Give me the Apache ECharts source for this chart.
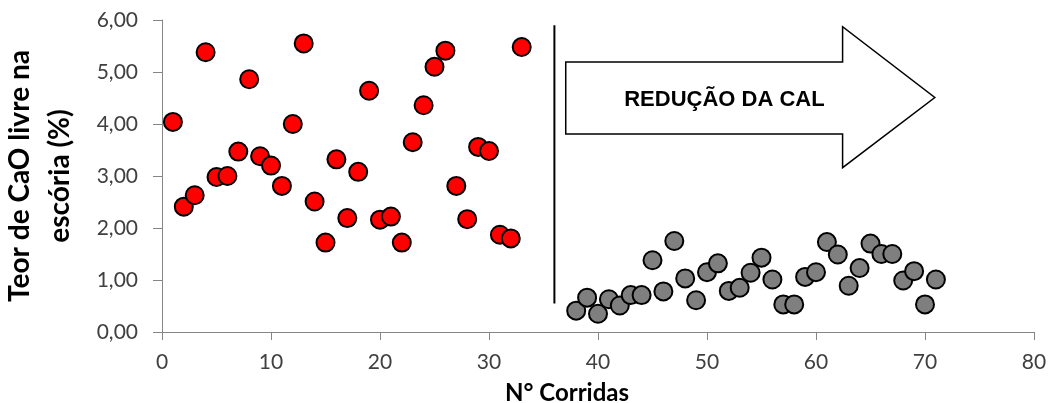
<!DOCTYPE html>
<html>
<head>
<meta charset="utf-8">
<script src="https://cdn.jsdelivr.net/npm/echarts@6/dist/echarts.min.js"></script>
<style>
html,body{margin:0;padding:0;background:#fff;}
#chart{width:1051px;height:403px;}
</style>
</head>
<body>
<div id="chart"></div>
<script>
// Before lime reduction (runs 1-33)
const runsBefore = [1,2,3,4,5,6,7,8,9,10,11,12,13,14,15,16,17,18,19,20,21,22,23,24,25,26,27,28,29,30,31,32,33];
const caoBefore = [4.04,2.41,2.63,5.38,2.98,3.00,3.47,4.86,3.38,3.20,2.81,4.00,5.55,2.51,1.72,3.32,2.19,3.08,4.64,2.16,2.22,1.72,3.65,4.36,5.10,5.41,2.81,2.17,3.56,3.48,1.87,1.80,5.48];
// After lime reduction (runs 38-71)
const runsAfter = [38,39,40,41,42,43,44,45,46,47,48,49,50,51,52,53,54,55,56,57,58,59,60,61,62,63,64,65,66,67,68,69,70,71];
const caoAfter = [0.41,0.66,0.35,0.63,0.51,0.71,0.71,1.38,0.78,1.75,1.03,0.61,1.15,1.32,0.79,0.85,1.14,1.43,1.01,0.53,0.53,1.06,1.15,1.73,1.49,0.89,1.23,1.70,1.50,1.50,0.99,1.17,0.53,1.01];
// Annotations (data space)
const dividerX = [36, 36];
const dividerY = [0.55, 5.90];
const arrowX = [37.04, 62.44, 62.44, 70.9, 62.44, 62.44, 37.04];
const arrowY = [5.19, 5.19, 5.87, 4.51, 3.16, 3.81, 3.81];
const arrowLabel = 'REDUÇÃO DA CAL';
const arrowLabelPos = [51.6, 4.47];
const xTicks = [0, 80, 10];
const yTicks = [0, 6, 1];

const chart = echarts.init(document.getElementById('chart'), null, {renderer: 'canvas'});
const tickFont = 'Lato';
const axisColor = '#868686';
const labelColor = '#404040';

const option = {
  animation: false,
  grid: {left: 162, right: 17, top: 20, bottom: 71, containLabel: false, outerBoundsMode: 'none'},
  xAxis: {
    type: 'value', min: xTicks[0], max: xTicks[1], interval: xTicks[2],
    splitLine: {show: false},
    axisLine: {show: true, lineStyle: {color: axisColor, width: 1}},
    axisTick: {show: true, length: 8, lineStyle: {color: axisColor}},
    axisLabel: {margin: 20, fontFamily: tickFont, fontSize: 21, color: labelColor},
    name: 'N° Corridas', nameLocation: 'middle', nameGap: 49,
    nameTextStyle: {fontFamily: tickFont, fontWeight: 'bold', fontSize: 24, color: '#000', padding: [0, 62, 0, 0]}
  },
  yAxis: {
    type: 'value', min: yTicks[0], max: yTicks[1], interval: yTicks[2],
    splitLine: {show: false},
    axisLine: {show: true, lineStyle: {color: axisColor, width: 1}},
    axisTick: {show: true, length: 9, lineStyle: {color: axisColor}},
    axisLabel: {margin: 24, fontFamily: tickFont, fontSize: 21, color: labelColor,
      formatter: v => v.toFixed(2).replace('.', ',')},
    name: 'Teor de CaO livre na\nescória (%)', nameLocation: 'middle', nameGap: 82,
    nameTextStyle: {fontFamily: tickFont, fontWeight: 'bold', fontSize: 28, lineHeight: 40, color: '#000'}
  },
  series: [
    {
      type: 'scatter', name: 'antes',
      data: runsBefore.map((r, i) => [r, caoBefore[i]]),
      symbol: 'circle', symbolSize: 18,
      itemStyle: {color: '#FF0000', borderColor: '#000', borderWidth: 2, opacity: 1}
    },
    {
      type: 'scatter', name: 'depois',
      data: runsAfter.map((r, i) => [r, caoAfter[i]]),
      symbol: 'circle', symbolSize: 18,
      itemStyle: {color: '#7F7F7F', borderColor: '#000', borderWidth: 2, opacity: 1}
    },
    {
      type: 'line', name: 'divisor',
      data: dividerX.map((x, i) => [x, dividerY[i]]),
      symbol: 'none', lineStyle: {color: '#000', width: 2}, silent: true
    },
    {
      type: 'custom', name: 'seta', silent: true,
      data: [[arrowLabelPos[0], arrowLabelPos[1]]],
      renderItem: function (params, api) {
        const pts = arrowX.map((x, i) => api.coord([x, arrowY[i]]));
        const c = api.coord([api.value(0), api.value(1)]);
        return {
          type: 'group',
          children: [
            {type: 'polygon', shape: {points: pts},
             style: {fill: '#fff', stroke: '#000', lineWidth: 1.5}},
            {type: 'text', x: c[0], y: c[1],
             style: {text: arrowLabel, fill: '#000', font: 'bold 22px "Liberation Sans", Arial, sans-serif',
                     align: 'center', verticalAlign: 'middle'}}
          ]
        };
      }
    }
  ]
};
chart.setOption(option);
</script>
</body>
</html>
